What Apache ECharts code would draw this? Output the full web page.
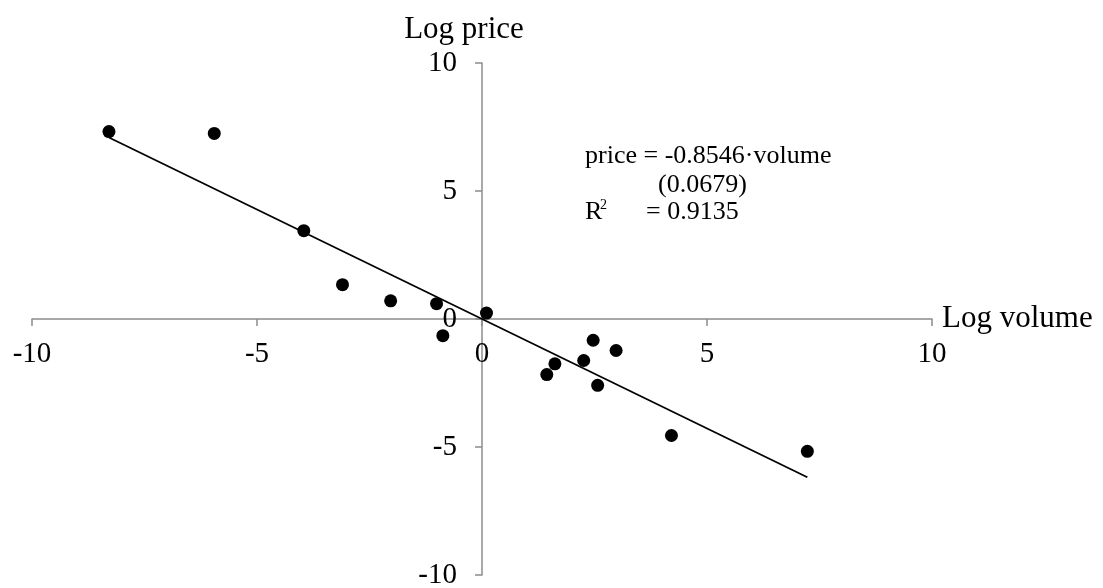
<!DOCTYPE html>
<html lang="en">
<head>
	<meta charset="UTF-8">
	<title>Log price vs log volume</title>
	<script src="https://cdn.jsdelivr.net/npm/echarts@6.0.0/dist/echarts.min.js"></script>
	<style>
		html,body{margin:0;padding:0;width:100%;height:100%;background:#fff;}
		#chart{width:1103px;height:588px;}
	</style>
</head>
<body>
	<div id="chart"></div>
<script>
	var logVolume = [-8.29, -5.95, -3.96, -3.10, -2.03, -1.01, -0.87, 0.10, 1.44, 1.62, 2.26, 2.47, 2.57, 2.98, 4.21, 7.23];
	var logPrice  = [ 7.32,  7.25,  3.45,  1.34,  0.71,  0.60, -0.65, 0.23, -2.17, -1.75, -1.62, -0.83, -2.59, -1.23, -4.55, -5.17];
	// fitted line ends
	var fitVolume = [-8.29, 7.23];
	var fitPrice  = [ 7.09, -6.18];
	var axisTicks = [-10, -5, 0, 5, 10];

	var serif = '"Liberation Serif", "Times New Roman", serif';
	var gray = '#8c8c8c';

	var points = [];
	for (var i = 0; i < logVolume.length; i++) {
		points.push([logVolume[i], logPrice[i]]);
	}
	var fit = [];
	for (var j = 0; j < fitVolume.length; j++) {
		fit.push([fitVolume[j], fitPrice[j]]);
	}

	var myChart = echarts.init(document.getElementById('chart'));

	// labels stay at the grid edge in v6, so negative margins pull them
	// back next to the axis lines that sit on zero
	var options = {
		animation: false,
		grid: {left: 32, right: 171, top: 63, bottom: 13, containLabel: false, outerBoundsMode: 'none'},
		xAxis: {
			type: 'value',
			min: axisTicks[0],
			max: axisTicks[axisTicks.length - 1],
			interval: 5,
			name: 'Log volume',
			nameLocation: 'end',
			nameGap: 10,
			nameTextStyle: {fontFamily: serif, fontSize: 31, color: '#000', padding: [10, 0, 0, 0]},
			axisLine: {onZero: true, lineStyle: {color: gray, width: 1.5}},
			axisTick: {show: true, inside: false, length: 7, lineStyle: {color: gray, width: 1.5}},
			axisLabel: {fontFamily: serif, fontSize: 29, color: '#000', margin: -235},
			splitLine: {show: false}
		},
		yAxis: {
			type: 'value',
			min: axisTicks[0],
			max: axisTicks[axisTicks.length - 1],
			interval: 5,
			name: 'Log price',
			nameLocation: 'end',
			nameGap: 18,
			nameTextStyle: {fontFamily: serif, fontSize: 31, color: '#000', padding: [0, 36, 0, 0]},
			axisLine: {onZero: true, lineStyle: {color: gray, width: 1.5}},
			axisTick: {show: true, inside: false, length: 7, lineStyle: {color: gray, width: 1.5}},
			axisLabel: {fontFamily: serif, fontSize: 29, color: '#000', margin: -425},
			splitLine: {show: false}
		},
		series: [
			{
				type: 'line',
				data: fit,
				symbol: 'none',
				lineStyle: {color: '#000', width: 1.8},
				z: 2
			},
			{
				type: 'scatter',
				data: points,
				symbol: 'circle',
				symbolSize: 13,
				itemStyle: {color: '#000', opacity: 1},
				z: 3
			}
		],
		graphic: [
			{type: 'text', x: 585, y: 156, style: {text: 'price = -0.8546\u00b7volume', font: '26px ' + serif, fill: '#000', verticalAlign: 'middle'}},
			{type: 'text', x: 658, y: 185, style: {text: '(0.0679)', font: '26px ' + serif, fill: '#000', verticalAlign: 'middle'}},
			{type: 'text', x: 585, y: 212, style: {text: 'R', font: '26px ' + serif, fill: '#000', verticalAlign: 'middle'}},
			{type: 'text', x: 600, y: 205, style: {text: '2', font: '14px ' + serif, fill: '#000', verticalAlign: 'middle'}},
			{type: 'text', x: 646, y: 212, style: {text: '= 0.9135', font: '26px ' + serif, fill: '#000', verticalAlign: 'middle'}}
		]
	};
	myChart.setOption(options);
</script>
</body>
</html>
